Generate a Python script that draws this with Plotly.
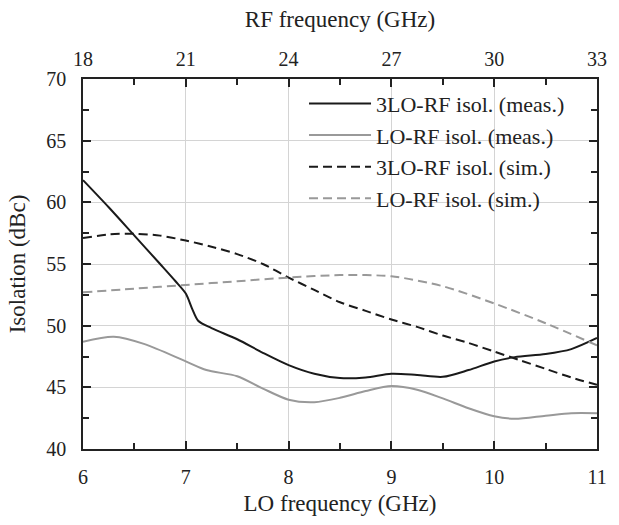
import plotly.graph_objects as go

# LO frequency (GHz) sample points and isolation values (dBc)
lo_3lo_meas = [6.0, 6.25, 6.5, 6.75, 6.9, 7.0, 7.06, 7.12, 7.25, 7.5, 7.75, 8.0, 8.25, 8.5, 8.75, 9.0, 9.25, 9.5, 9.75, 10.0, 10.2, 10.5, 10.75, 11.0]
iso_3lo_meas = [61.8, 59.6, 57.3, 55.0, 53.6, 52.6, 51.4, 50.4, 49.8, 48.9, 47.8, 46.8, 46.1, 45.75, 45.8, 46.1, 46.0, 45.85, 46.4, 47.1, 47.45, 47.7, 48.1, 49.0]

lo_lo_meas = [6.0, 6.3, 6.6, 7.0, 7.2, 7.5, 7.75, 8.0, 8.25, 8.5, 8.75, 9.0, 9.25, 9.5, 9.75, 10.0, 10.2, 10.5, 10.75, 11.0]
iso_lo_meas = [48.7, 49.1, 48.5, 47.1, 46.4, 45.9, 44.9, 44.0, 43.8, 44.15, 44.7, 45.1, 44.8, 44.1, 43.3, 42.65, 42.45, 42.7, 42.9, 42.9]

lo_3lo_sim = [6.0, 6.25, 6.5, 6.75, 7.0, 7.25, 7.5, 7.75, 8.0, 8.25, 8.5, 8.75, 9.0, 9.25, 9.5, 9.75, 10.0, 10.25, 10.5, 10.75, 11.0]
iso_3lo_sim = [57.1, 57.4, 57.45, 57.3, 56.9, 56.4, 55.8, 55.0, 53.9, 52.9, 51.9, 51.2, 50.5, 49.9, 49.2, 48.6, 47.9, 47.2, 46.5, 45.8, 45.2]

lo_lo_sim = [6.0, 6.5, 7.0, 7.5, 8.0, 8.5, 9.0, 9.5, 10.0, 10.5, 11.0]
iso_lo_sim = [52.7, 53.0, 53.3, 53.6, 53.9, 54.1, 54.0, 53.2, 51.8, 50.2, 48.4]

x_ticks = [6, 7, 8, 9, 10, 11]
rf_ticks = [18, 21, 24, 27, 30, 33]
y_ticks = [40, 45, 50, 55, 60, 65, 70]

BLACK = "#1a1a1a"
GRAY = "#999999"
FONT = "Liberation Serif"
TXT = "#222222"

fig = go.Figure()
series = [
    ("3LO-RF isol. (meas.)", lo_3lo_meas, iso_3lo_meas, BLACK, "solid"),
    ("LO-RF isol. (meas.)", lo_lo_meas, iso_lo_meas, GRAY, "solid"),
    ("3LO-RF isol. (sim.)", lo_3lo_sim, iso_3lo_sim, BLACK, "9px,5px"),
    ("LO-RF isol. (sim.)", lo_lo_sim, iso_lo_sim, GRAY, "9px,5px"),
]
for name, xs, ys, col, dash in series:
    fig.add_trace(go.Scatter(
        x=xs, y=ys, mode="lines", name=name,
        line=dict(color=col, width=2, dash=dash, shape="spline", smoothing=0.8),
    ))

# invisible trace to activate the top RF axis
fig.add_trace(go.Scatter(x=[rf_ticks[0], rf_ticks[-1]], y=[40, 40], xaxis="x2",
                         mode="lines", line=dict(width=0), showlegend=False, hoverinfo="skip"))

tickfont = dict(family=FONT, size=20, color=TXT)
titlefont = dict(family=FONT, size=23, color=TXT)
fig.update_layout(
    width=619, height=525,
    margin=dict(l=83, r=22, t=79, b=76),
    paper_bgcolor="white", plot_bgcolor="white",
    font=dict(family=FONT, size=20, color=TXT),
    showlegend=True,
    legend=dict(x=0.43, y=0.99, xanchor="left", yanchor="top",
                bgcolor="rgba(0,0,0,0)", font=dict(family=FONT, size=22, color=TXT),
                traceorder="normal", itemwidth=62),
    xaxis=dict(range=[6, 11], tickvals=x_ticks, ticks="inside", ticklen=8, tickwidth=1.5,
               tickcolor=TXT, showline=True, linecolor=TXT, linewidth=1.5,
               showgrid=True, gridcolor="#d4d4d4", gridwidth=1, zeroline=False,
               minor=dict(dtick=0.5, ticks="inside", ticklen=6, tickcolor=TXT, tickwidth=1.5, showgrid=False),
               tickfont=tickfont, ticklabelstandoff=9,
               title=dict(text="LO frequency (GHz)", font=titlefont, standoff=8)),
    xaxis2=dict(range=[18, 33], tickvals=rf_ticks, overlaying="x", side="top",
                ticks="inside", ticklen=8, tickwidth=1.5, tickcolor=TXT,
                showline=True, linecolor=TXT, linewidth=1.5, showgrid=False, zeroline=False,
                minor=dict(dtick=1.5, ticks="inside", ticklen=6, tickcolor=TXT, tickwidth=1.5, showgrid=False),
                tickfont=tickfont, ticklabelstandoff=3,
                title=dict(text="RF frequency (GHz)", font=titlefont, standoff=14)),
    yaxis=dict(range=[40, 70], tickvals=y_ticks, ticks="inside", ticklen=8, tickwidth=1.5,
               tickcolor=TXT, showline=True, linecolor=TXT, linewidth=1.5, mirror="ticks",
               showgrid=True, gridcolor="#d4d4d4", gridwidth=1, zeroline=False,
               minor=dict(dtick=2.5, ticks="inside", ticklen=6, tickcolor=TXT, tickwidth=1.5, showgrid=False),
               tickfont=tickfont, ticklabelstandoff=11,
               title=dict(text="Isolation (dBc)", font=titlefont, standoff=14)),
)

fig.write_html("out.html")
